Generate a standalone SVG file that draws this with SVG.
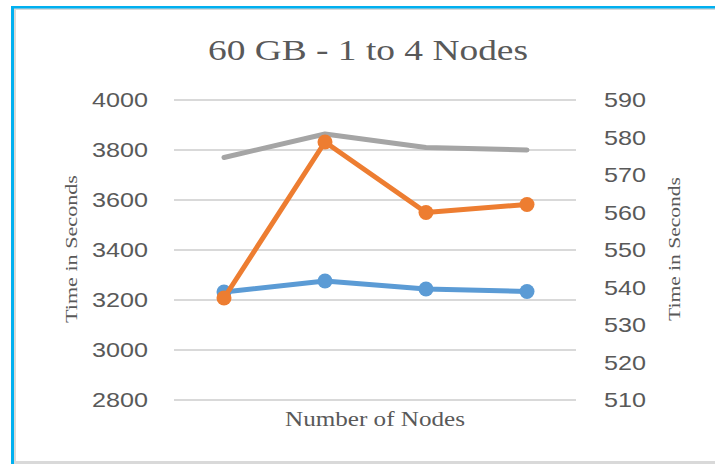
<svg xmlns="http://www.w3.org/2000/svg" width="715" height="464" viewBox="0 0 715 464">
  <style>
    .grid { stroke: #d9d9d9; stroke-width: 2; }
    .tick { font-family: "Liberation Sans", Arial, sans-serif; font-size: 21px; fill: #595959; }
    .serif { font-family: "Liberation Serif", "Times New Roman", serif; fill: #595959; }
    .series { fill: none; stroke-width: 5; stroke-linejoin: round; stroke-linecap: round; }
  </style>

  <!-- chart frame -->
  <rect x="0" y="0" width="715" height="464" fill="#ffffff"/>
  <rect x="14" y="8" width="701" height="2" fill="#d9d9d9"/>
  <rect x="14" y="8" width="2" height="456" fill="#d9d9d9"/>
  <rect x="14" y="461" width="701" height="3" fill="#d9d9d9"/>
  <rect x="11" y="6" width="704" height="2.5" fill="#00b0f0"/>
  <rect x="11" y="6" width="3" height="458" fill="#00b0f0"/>

  <!-- title -->
  <text class="serif" x="368" y="60" font-size="30" text-anchor="middle" textLength="320" lengthAdjust="spacingAndGlyphs">60 GB - 1 to 4 Nodes</text>

  <!-- horizontal gridlines -->
  <g id="gridlines">
    <line class="grid" x1="174" y1="100" x2="576" y2="100"/>
    <line class="grid" x1="174" y1="150" x2="576" y2="150"/>
    <line class="grid" x1="174" y1="200" x2="576" y2="200"/>
    <line class="grid" x1="174" y1="250" x2="576" y2="250"/>
    <line class="grid" x1="174" y1="300" x2="576" y2="300"/>
    <line class="grid" x1="174" y1="350" x2="576" y2="350"/>
    <line class="grid" x1="174" y1="400" x2="576" y2="400"/>
  </g>

  <!-- primary axis labels -->
  <g id="left-axis" text-anchor="end">
    <text class="tick" x="148" y="107" textLength="56" lengthAdjust="spacingAndGlyphs">4000</text>
    <text class="tick" x="148" y="157" textLength="56" lengthAdjust="spacingAndGlyphs">3800</text>
    <text class="tick" x="148" y="207" textLength="56" lengthAdjust="spacingAndGlyphs">3600</text>
    <text class="tick" x="148" y="257" textLength="56" lengthAdjust="spacingAndGlyphs">3400</text>
    <text class="tick" x="148" y="307" textLength="56" lengthAdjust="spacingAndGlyphs">3200</text>
    <text class="tick" x="148" y="357" textLength="56" lengthAdjust="spacingAndGlyphs">3000</text>
    <text class="tick" x="148" y="407" textLength="56" lengthAdjust="spacingAndGlyphs">2800</text>
  </g>

  <!-- secondary axis labels -->
  <g id="right-axis">
    <text class="tick" x="604" y="107" textLength="42" lengthAdjust="spacingAndGlyphs">590</text>
    <text class="tick" x="604" y="144.5" textLength="42" lengthAdjust="spacingAndGlyphs">580</text>
    <text class="tick" x="604" y="182" textLength="42" lengthAdjust="spacingAndGlyphs">570</text>
    <text class="tick" x="604" y="219.5" textLength="42" lengthAdjust="spacingAndGlyphs">560</text>
    <text class="tick" x="604" y="257" textLength="42" lengthAdjust="spacingAndGlyphs">550</text>
    <text class="tick" x="604" y="294.5" textLength="42" lengthAdjust="spacingAndGlyphs">540</text>
    <text class="tick" x="604" y="332" textLength="42" lengthAdjust="spacingAndGlyphs">530</text>
    <text class="tick" x="604" y="369.5" textLength="42" lengthAdjust="spacingAndGlyphs">520</text>
    <text class="tick" x="604" y="407" textLength="42" lengthAdjust="spacingAndGlyphs">510</text>
  </g>

  <!-- axis titles -->
  <text class="serif" font-size="17" text-anchor="middle" transform="translate(77 249) rotate(-90)" textLength="148" lengthAdjust="spacingAndGlyphs">Time in Seconds</text>
  <text class="serif" font-size="17" text-anchor="middle" transform="translate(680 249) rotate(-90)" textLength="144" lengthAdjust="spacingAndGlyphs">Time in Seconds</text>
  <text class="serif" x="375" y="426" font-size="20" text-anchor="middle" textLength="180" lengthAdjust="spacingAndGlyphs">Number of Nodes</text>

  <!-- data series -->
  <g id="series-grey">
    <polyline class="series" stroke="#a5a5a5" points="224,157.5 325,134 426,147.5 527,150"/>
  </g>
  <g id="series-blue" fill="#5b9bd5">
    <polyline class="series" stroke="#5b9bd5" points="224,292 325,281 426,289 527,291.5"/>
    <circle cx="224" cy="292" r="7.5"/>
    <circle cx="325" cy="281" r="7.5"/>
    <circle cx="426" cy="289" r="7.5"/>
    <circle cx="527" cy="291.5" r="7.5"/>
  </g>
  <g id="series-orange" fill="#ed7d31">
    <polyline class="series" stroke="#ed7d31" points="224,298 325,142 426,212.5 527,204.5"/>
    <circle cx="224" cy="298" r="7.5"/>
    <circle cx="325" cy="142" r="7.5"/>
    <circle cx="426" cy="212.5" r="7.5"/>
    <circle cx="527" cy="204.5" r="7.5"/>
  </g>
</svg>
